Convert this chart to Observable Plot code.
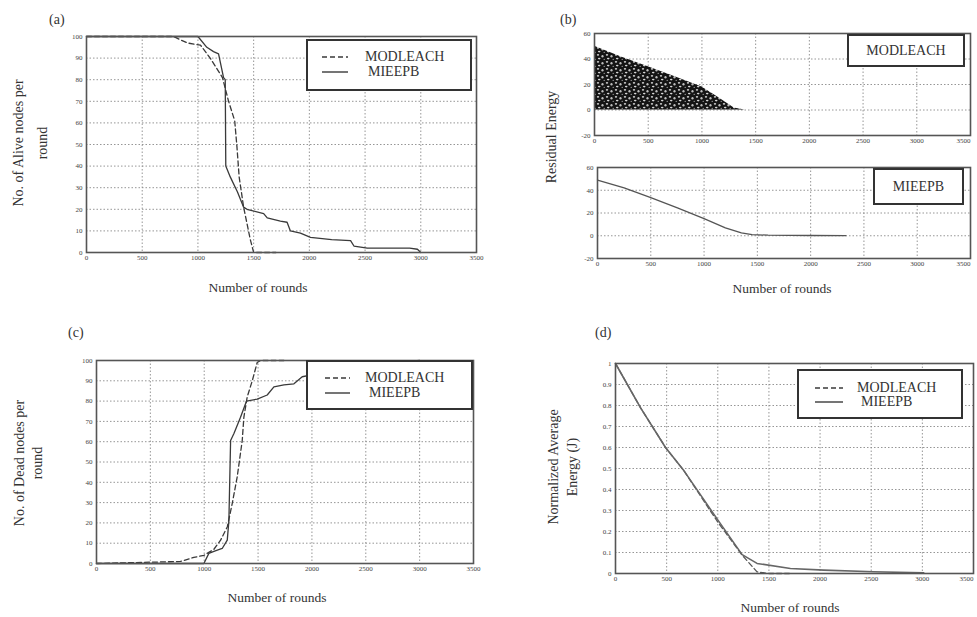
<!DOCTYPE html>
<html>
<head>
<meta charset="utf-8">
<script src="https://cdn.jsdelivr.net/npm/d3@7"></script>
<script src="https://cdn.jsdelivr.net/npm/@observablehq/plot@0.6"></script>
<style>
  html, body { margin: 0; padding: 0; background: #fff; }
  #fig { position: relative; width: 977px; height: 617px; overflow: hidden; background: #fff;
         font-family: "Liberation Serif", "DejaVu Serif", serif; color: #333; }
  .lbl { position: absolute; white-space: nowrap; text-align: center; transform-origin: center center; }
  .legend { position: absolute; border: 2px solid #333; background: #fff; box-sizing: border-box; }
  .legend svg { position: absolute; }
  .legend span { position: absolute; font-size: 14px; line-height: 14px; white-space: nowrap; color: #333; }
  svg.plot text { font-family: "Liberation Serif", serif; font-weight: bold; }
</style>
</head>
<body>
<div id="fig"></div>
<script>
// ---------- data ----------
const roundTicks = [0, 500, 1000, 1500, 2000, 2500, 3000, 3500];
const nodeTicks = [0, 10, 20, 30, 40, 50, 60, 70, 80, 90, 100];
const residualTicks = [-20, 0, 20, 40, 60];
const energyTicks = [0, 0.1, 0.2, 0.3, 0.4, 0.5, 0.6, 0.7, 0.8, 0.9, 1];
const seriesNames = ["MODLEACH", "MIEEPB"];

// (a) alive nodes per round
const aliveModRounds = [0, 780, 905, 1023, 1110, 1220, 1275, 1330, 1350, 1370, 1410, 1470, 1500, 1700];
const aliveModValues = [100, 100, 97, 96, 90, 81, 70, 61, 49, 35, 21, 6, 0, 0];
const aliveMieRounds = [0, 1000, 1080, 1140, 1185, 1230, 1245, 1250, 1290, 1355, 1410, 1440, 1590, 1622, 1740, 1800, 1830, 1920, 2010, 2200, 2370, 2400, 2520, 2900, 2970, 3000];
const aliveMieValues = [100, 100, 95, 93, 92, 81, 80, 40, 35, 28, 21, 20, 18, 16, 14.5, 14, 10, 9, 7, 6, 5.5, 3, 2, 2, 1.5, 0];

// (b) residual energy
const resModRounds = [0, 250, 500, 750, 1000, 1150, 1300, 1400];
const resModUpper = [50, 41.5, 34, 26, 18, 10, 1.5, 0];
const resMieRounds = [0, 250, 500, 750, 1000, 1200, 1350, 1450, 1600, 2000, 2330];
const resMieValues = [49, 42, 33.5, 24.5, 15, 7, 2.5, 1, 0.5, 0.2, 0.1];

// (c) dead nodes per round
const deadModRounds = [0, 780, 904, 997, 1090, 1152, 1214, 1260, 1306, 1353, 1368, 1399, 1446, 1492, 1523, 1740];
const deadModValues = [0, 1, 3, 4, 7, 11.5, 18, 29.5, 42.6, 60.6, 72, 82, 90, 99, 100, 100];
const deadMieRounds = [0, 997, 1043, 1090, 1167, 1214, 1229, 1245, 1276, 1337, 1393, 1492, 1585, 1647, 1740, 1833, 1910, 2010, 2400, 3000];
const deadMieValues = [0, 0, 5, 6, 7.4, 11.5, 21, 60.6, 64, 72, 80, 81, 83, 87, 88, 88.5, 92, 93, 97, 100];

// (d) normalized average energy
const energyModRounds = [0, 244, 489, 668, 993, 1238, 1384, 1500, 1700];
const energyModValues = [1, 0.79, 0.60, 0.49, 0.25, 0.087, 0.008, 0, 0];
const energyMieRounds = [0, 244, 489, 668, 993, 1238, 1384, 1710, 2036, 2524, 3013];
const energyMieValues = [1, 0.79, 0.60, 0.49, 0.26, 0.09, 0.048, 0.024, 0.016, 0.008, 0.003];

// ---------- helpers ----------
const fig = document.getElementById("fig");
const zip = (xs, ys) => xs.map((x, i) => ({x, y: ys[i]}));
const LINE = "#3a3a3a";
const DASH = "5,3";
const GRID = {stroke: "#8a8a8a", strokeDasharray: "1.5,2", strokeWidth: 0.9};

function panel({left, top, width, height, ml, mr, mt, mb, ydomain, yticks, marks, after}) {
  const svg = Plot.plot({
    width, height,
    marginLeft: ml, marginRight: mr, marginTop: mt, marginBottom: mb,
    style: {fontFamily: "'Liberation Serif', serif", fontSize: "7px", color: "#444", background: "transparent", overflow: "hidden"},
    x: {domain: [0, 3500], ticks: roundTicks, tickSize: 0, tickPadding: 3, label: null, tickFormat: d3.format("d")},
    y: {domain: ydomain, ticks: yticks, tickSize: 0, tickPadding: 4, label: null, tickFormat: d => String(d)},
    marks: [
      Plot.ruleX(roundTicks, GRID),
      Plot.ruleY(yticks, GRID),
      ...marks,
      Plot.frame({stroke: "#555", strokeWidth: 1.6})
    ]
  });
  if (after) after(svg);
  // keep the last x tick label inside the picture when the frame reaches the page edge
  if (left + width >= 970) {
    const xt = svg.querySelectorAll('g[aria-label="x-axis tick label"] text');
    if (xt.length) xt[xt.length - 1].setAttribute("text-anchor", "end");
  }
  svg.style.position = "absolute";
  svg.style.left = left + "px";
  svg.style.top = top + "px";
  fig.appendChild(svg);
}

function label(text, cx, cy, {size = 13.5, rotate = 0, lh = 16} = {}) {
  const d = document.createElement("div");
  d.className = "lbl";
  d.style.fontSize = size + "px";
  d.style.lineHeight = lh + "px";
  d.innerHTML = text;
  fig.appendChild(d);
  const w = d.offsetWidth, h = d.offsetHeight;
  d.style.left = (cx - w / 2) + "px";
  d.style.top = (cy - h / 2) + "px";
  if (rotate) d.style.transform = `rotate(${rotate}deg)`;
}

function legendBox(x, y, w, h, lineX, lineW, rows) {
  const box = document.createElement("div");
  box.className = "legend";
  Object.assign(box.style, {left: x + "px", top: y + "px", width: w + "px", height: h + "px"});
  rows.forEach(r => {
    const s = document.createElementNS("http://www.w3.org/2000/svg", "svg");
    s.setAttribute("width", lineW); s.setAttribute("height", 6);
    s.style.left = (lineX - x - 2) + "px";
    s.style.top = (r.y - y - 2 - 3) + "px";
    s.innerHTML = `<line x1="0" y1="3" x2="${lineW}" y2="3" stroke="${LINE}" stroke-width="1.4" ${r.dash ? `stroke-dasharray="${DASH}"` : ""}/>`;
    box.appendChild(s);
    const t = document.createElement("span");
    t.textContent = r.text;
    t.style.left = (r.tx - x - 2) + "px";
    t.style.top = (r.y - y - 2 - 7) + "px";
    box.appendChild(t);
  });
  fig.appendChild(box);
}

function nameBox(x, y, w, h, text) {
  const box = document.createElement("div");
  box.className = "legend";
  Object.assign(box.style, {left: x + "px", top: y + "px", width: w + "px", height: h + "px",
    display: "flex", alignItems: "center", justifyContent: "center", fontSize: "14px"});
  box.textContent = text;
  fig.appendChild(box);
}

// ---------- (a) ----------
panel({left: 50, top: 26, width: 440, height: 246, ml: 36, mr: 14, mt: 10, mb: 20,
  ydomain: [0, 100], yticks: nodeTicks,
  marks: [
    Plot.line(zip(aliveModRounds, aliveModValues), {x: "x", y: "y", stroke: LINE, strokeWidth: 1.3, strokeDasharray: DASH}),
    Plot.line(zip(aliveMieRounds, aliveMieValues), {x: "x", y: "y", stroke: LINE, strokeWidth: 1.3})
  ]});
legendBox(306, 39, 166, 52, 322, 26, [
  {y: 57, text: seriesNames[0], tx: 365, dash: true},
  {y: 72, text: seriesNames[1], tx: 368, dash: false}
]);
label("(a)", 57, 20, {size: 14});
label("No. of Alive nodes per<br>round", 30, 143, {size: 14, rotate: -90, lh: 24});
label("Number of rounds", 258, 288, {size: 13.5});

// ---------- (b) ----------
panel({left: 560, top: 25, width: 417, height: 124, ml: 34, mr: 7, mt: 8, mb: 14,
  ydomain: [-20, 60], yticks: residualTicks,
  after: svg => {
    const defs = document.createElementNS("http://www.w3.org/2000/svg", "defs");
    defs.innerHTML = `<pattern id="mesh" width="9" height="7" patternUnits="userSpaceOnUse">
      <rect width="9" height="7" fill="#141414"/>
      <ellipse cx="2" cy="1.8" rx="1.2" ry="0.9" fill="#cfcfcf"/>
      <ellipse cx="6.5" cy="3.2" rx="1.1" ry="1.3" fill="#bdbdbd"/>
      <ellipse cx="3.2" cy="5.6" rx="1.3" ry="0.8" fill="#d6d6d6"/>
      <ellipse cx="8.2" cy="6.3" rx="0.7" ry="0.6" fill="#aaa"/></pattern>`;
    svg.insertBefore(defs, svg.firstChild);
  },
  marks: [
    Plot.areaY(zip(resModRounds, resModUpper), {x: "x", y: "y", fill: "url(#mesh)"})
  ]});
panel({left: 560, top: 159, width: 417, height: 113, ml: 37, mr: 7, mt: 8, mb: 14,
  ydomain: [-20, 60], yticks: residualTicks,
  marks: [
    Plot.line(zip(resMieRounds, resMieValues), {x: "x", y: "y", stroke: "#555", strokeWidth: 1.3})
  ]});
nameBox(847, 34, 118, 33, seriesNames[0]);
nameBox(873, 168, 91, 37, seriesNames[1]);
label("(b)", 568, 20, {size: 14});
label("Residual Energy", 552, 137, {size: 14, rotate: -90});
label("Number of rounds", 782, 289, {size: 13.5});

// ---------- (c) ----------
panel({left: 56, top: 350, width: 430, height: 231, ml: 40, mr: 13, mt: 10, mb: 18,
  ydomain: [0, 100], yticks: nodeTicks,
  marks: [
    Plot.line(zip(deadModRounds, deadModValues), {x: "x", y: "y", stroke: LINE, strokeWidth: 1.3, strokeDasharray: DASH}),
    Plot.line(zip(deadMieRounds, deadMieValues), {x: "x", y: "y", stroke: LINE, strokeWidth: 1.3})
  ]});
legendBox(306, 360, 167, 50, 325, 25, [
  {y: 378, text: seriesNames[0], tx: 365, dash: true},
  {y: 393, text: seriesNames[1], tx: 369, dash: false}
]);
label("(c)", 76, 333, {size: 14});
label("No. of Dead nodes per<br>round", 29, 463, {size: 14, rotate: -90, lh: 18});
label("Number of rounds", 277, 598, {size: 13.5});

// ---------- (d) ----------
panel({left: 575, top: 353, width: 402, height: 238, ml: 40, mr: 4, mt: 10, mb: 18,
  ydomain: [0, 1], yticks: energyTicks,
  marks: [
    Plot.line(zip(energyModRounds, energyModValues), {x: "x", y: "y", stroke: "#555", strokeWidth: 1.3, strokeDasharray: DASH}),
    Plot.line(zip(energyMieRounds, energyMieValues), {x: "x", y: "y", stroke: "#666", strokeWidth: 1.6})
  ]});
legendBox(797, 369, 166, 50, 815, 28, [
  {y: 388, text: seriesNames[0], tx: 857, dash: true},
  {y: 402, text: seriesNames[1], tx: 861, dash: false}
]);
label("(d)", 603, 333, {size: 14});
label("Normalized Average<br>Energy (J)", 562, 467, {size: 14, rotate: -90, lh: 19});
label("Number of rounds", 790, 608, {size: 13.5});
</script>
</body>
</html>
